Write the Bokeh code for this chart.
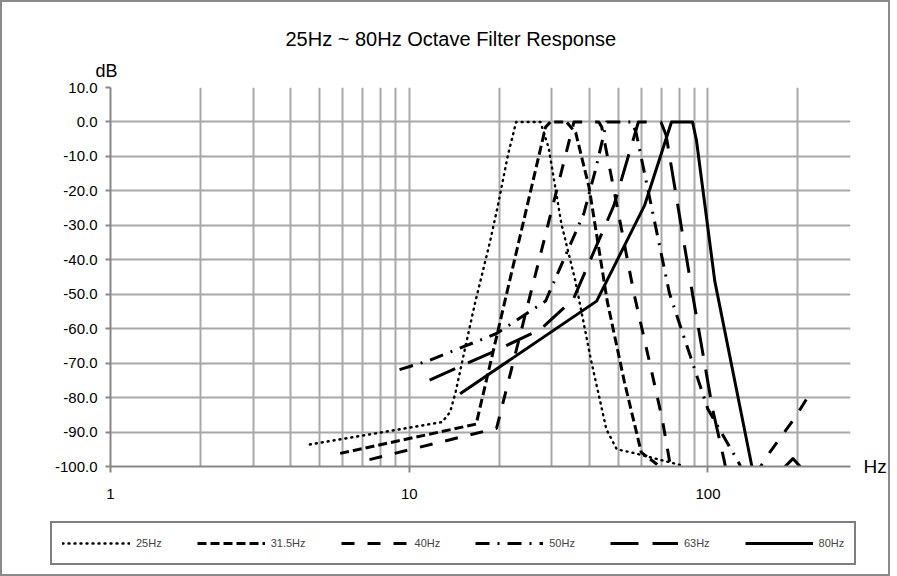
from bokeh.plotting import figure
from bokeh.models import (Range1d, FixedTicker, NumeralTickFormatter, Title, Legend,
                          LegendItem, LinearAxis)
from bokeh.embed import file_html
from bokeh.resources import INLINE

# ---- data ----
f25 = [4.65, 7.7, 12.9, 13.7, 14.3, 15.5, 16.6, 18.6, 19.8, 21.4, 22.8, 27.5, 29.3, 32.3, 36.0, 40.5, 45.7, 49.5, 55.3, 82]
db25 = [-93.6, -90.4, -87.1, -84.2, -78.4, -64.3, -52.6, -35.1, -24.3, -9.6, 0, 0, -7.6, -29.5, -46.2, -68.7, -89.2, -95, -95.9, -99.7]

f31 = [5.87, 16.75, 28.6, 29.7, 33.6, 36.1, 40.0, 46.0, 52.5, 59.8, 67.6, 72]
db31 = [-96.2, -87.7, -1.5, 0, 0, -3.2, -19, -52, -75.4, -95.9, -99.4, -102]

f40 = [7.36, 19.6, 35.6, 43.1, 44.1, 56.5, 63.7, 70.4, 74.9, 100, 150, 161, 196, 216]
db40 = [-98, -88.9, 0, 0, -1.5, -49.7, -69.6, -86.5, -100, -130, -100, -95.9, -85.7, -79.8]

f50 = [9.28, 11.6, 19.6, 28.6, 38.4, 42.0, 45.8, 55.7, 57.5, 74.3, 99.9, 127.7, 135]
db50 = [-71.9, -69.3, -61.4, -52, -26.6, -14, 0, 0, -3.2, -49.7, -83.3, -99.4, -106]

f63 = [11.7, 14.5, 19.1, 27.5, 35.4, 48.4, 58.5, 69.6, 72.4, 88.8, 103.6, 113.3, 120]
db63 = [-74.9, -71.3, -66.7, -60.2, -51.5, -24.3, 0, 0, -3.8, -50, -83.3, -98.2, -110]

f80 = [14.8, 42.4, 61.3, 75.5, 88.8, 91.5, 105.4, 140.3, 155, 192.5, 235]
db80 = [-78.9, -52, -24.3, 0, 0, -5.3, -46.2, -100, -106, -97.7, -106]

series_names = ["25Hz", "31.5Hz", "40Hz", "50Hz", "63Hz", "80Hz"]
x_ticks = [1, 10, 100]
x_minor = [2, 3, 4, 5, 6, 7, 8, 9, 20, 30, 40, 50, 60, 70, 80, 90, 200, 300]
y_ticks = list(range(-100, 11, 10))

title_text = "25Hz ~ 80Hz Octave Filter Response"
y_unit = "dB"
x_unit = "Hz"

FONT = "Liberation Sans"
GRID = "#a8a8a8"
AXIS = "#878787"
BORDER = "2px solid #8a8a8a"

# ---------------- main chart ----------------
p = figure(width=890, height=510, x_axis_type="log",
           x_range=Range1d(1, 300), y_range=Range1d(-100, 10),
           output_backend="svg", toolbar_location=None,
           min_border_left=108, min_border_right=42,
           min_border_top=85, min_border_bottom=46)
p.styles = {"border-top": BORDER, "border-left": BORDER, "border-right": BORDER}
p.outline_line_color = None
p.background_fill_color = "white"
p.border_fill_color = "white"

xt = FixedTicker(ticks=x_ticks, minor_ticks=x_minor)
yt = FixedTicker(ticks=y_ticks)
p.xaxis.ticker = xt
p.xgrid.ticker = xt
p.yaxis.ticker = yt
p.ygrid.ticker = yt
p.xaxis.formatter = NumeralTickFormatter(format="0")
p.yaxis.formatter = NumeralTickFormatter(format="0.0")

for g in (p.xgrid, p.ygrid):
    g.grid_line_color = GRID
    g.grid_line_width = 2
p.xgrid.minor_grid_line_color = GRID
p.xgrid.minor_grid_line_width = 2

for ax in (p.xaxis, p.yaxis):
    ax.axis_line_color = AXIS
    ax.axis_line_width = 2
    ax.major_tick_line_color = AXIS
    ax.major_tick_line_width = 2
    ax.major_tick_in = 0
    ax.minor_tick_line_color = None
    ax.major_label_text_font = FONT
    ax.major_label_text_font_size = "15px"
    ax.major_label_text_color = "black"
p.xaxis.major_tick_out = 6
p.xaxis.major_label_standoff = 16
p.yaxis.major_tick_out = 5
p.yaxis.major_label_standoff = 8

# "Hz" unit label at the right end of the x axis (right-side axis with one tick)
hz_axis = LinearAxis(ticker=FixedTicker(ticks=[-100]),
                     major_label_overrides={-100: x_unit},
                     axis_line_color=None, major_tick_line_color=None,
                     minor_tick_line_color=None, major_label_standoff=7,
                     major_label_text_font=FONT, major_label_text_font_size="19px",
                     major_label_text_color="black")
p.add_layout(hz_axis, "right")

styles = [
    dict(line_dash="1 5", line_width=2.4, line_cap="round"),
    dict(line_dash="9 4", line_width=3),
    dict(line_dash="13 13", line_width=3),
    dict(line_dash="14 8 2 8", line_width=3),
    dict(line_dash="28 14", line_width=3),
    dict(line_dash="solid", line_width=3),
]
data = [(f25, db25), (f31, db31), (f40, db40), (f50, db50), (f63, db63), (f80, db80)]
for (fx, dy), st in zip(data, styles):
    p.line(fx, dy, line_color="black", line_join="round", **st)

# "dB" unit label (nearest to the frame), then the main title above it
p.add_layout(Title(text=y_unit, align="left", offset=-15, text_font=FONT,
                   text_font_size="18px", text_font_style="normal",
                   text_color="black", standoff=14), "above")
p.title.text = title_text
p.title.align = "left"
p.title.offset = 175
p.title.standoff = 4
p.title.text_font = FONT
p.title.text_font_size = "20px"
p.title.text_font_style = "normal"
p.title.text_color = "black"

# ---------------- legend strip (separate root, so no frame alignment) ----------------
q = figure(width=890, height=66, x_range=Range1d(0, 1), y_range=Range1d(0, 1),
           output_backend="svg", toolbar_location=None,
           x_axis_location=None, y_axis_location=None, min_border=0)
q.styles = {"border-left": BORDER, "border-right": BORDER, "border-bottom": BORDER}
q.grid.visible = False
q.outline_line_color = None
q.background_fill_color = "white"
q.border_fill_color = "white"
keys = []
for (fx, dy), st in zip(data, styles):
    # same series, outside this strip's ranges: only the legend keys show
    keys.append(q.line(fx, dy, line_color="black", line_join="round", **st))

legend = Legend(items=[LegendItem(label=n, renderers=[r]) for n, r in zip(series_names, keys)],
                location=(48, 11), orientation="horizontal",
                glyph_width=68, glyph_height=20, label_standoff=6, spacing=35,
                padding=10, margin=0,
                label_text_font=FONT, label_text_font_size="11px",
                border_line_color="black", border_line_width=2,
                background_fill_color="white", background_fill_alpha=1)
q.add_layout(legend)

open("out.html", "w").write(file_html([p, q], INLINE))
